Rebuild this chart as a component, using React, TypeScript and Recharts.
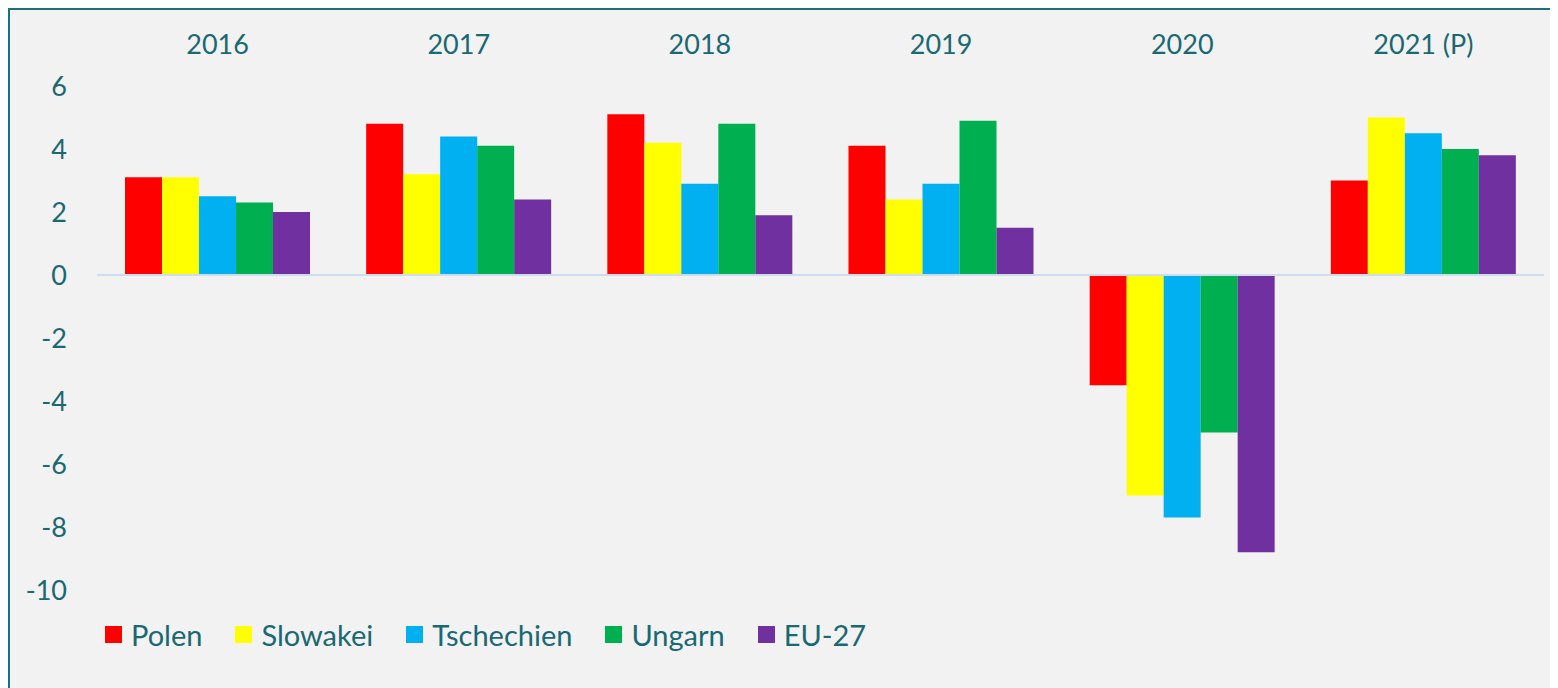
import React from 'react'
import {
  BarChart,
  Bar,
  XAxis,
  YAxis,
  Legend,
  ReferenceLine,
} from 'recharts'

const years = ['2016', '2017', '2018', '2019', '2020', '2021 (P)']
const polen = [3.1, 4.8, 5.1, 4.1, -3.5, 3.0]
const slowakei = [3.1, 3.2, 4.2, 2.4, -7.0, 5.0]
const tschechien = [2.5, 4.4, 2.9, 2.9, -7.7, 4.5]
const ungarn = [2.3, 4.1, 4.8, 4.9, -5.0, 4.0]
const eu27 = [2.0, 2.4, 1.9, 1.5, -8.8, 3.8]
const yTicks = [6, 4, 2, 0, -2, -4, -6, -8, -10]

const series = [
  { key: 'polen', name: 'Polen', color: '#ff0000' },
  { key: 'slowakei', name: 'Slowakei', color: '#ffff00' },
  { key: 'tschechien', name: 'Tschechien', color: '#00b0f0' },
  { key: 'ungarn', name: 'Ungarn', color: '#00b050' },
  { key: 'eu27', name: 'EU-27', color: '#7030a0' },
]

const data = years.map((year, i) => ({
  year,
  polen: polen[i],
  slowakei: slowakei[i],
  tschechien: tschechien[i],
  ungarn: ungarn[i],
  eu27: eu27[i],
}))

const TEXT = '#1a6872'
const FONT = 'Lato, "Open Sans", sans-serif'

// legend keeps the series order (recharts would sort it by name)
function LegendContent() {
  return (
    <div style={{ display: 'flex', alignItems: 'center', fontFamily: FONT, fontSize: 29, color: TEXT }}>
      {series.map((s) => (
        <div key={s.key} style={{ display: 'flex', alignItems: 'center', marginRight: 33 }}>
          <span style={{ width: 17, height: 17, background: s.color, marginRight: 9, display: 'inline-block' }} />
          <span>{s.name}</span>
        </div>
      ))}
    </div>
  )
}

export default function App() {
  return (
    <div
      style={{
        width: 1550,
        height: 680,
        background: '#f2f2f2',
        borderTop: '2px solid #1f6e79',
        borderLeft: '2px solid #1f6e79',
      }}
    >
      <BarChart
        width={1548}
        height={678}
        data={data}
        margin={{ top: 16, right: 14, left: 0, bottom: 98 }}
        barCategoryGap={28}
        barGap={0}
      >
        <XAxis
          dataKey="year"
          orientation="top"
          height={60}
          axisLine={false}
          tickLine={false}
          tickMargin={26}
          tick={{ fill: TEXT, fontSize: 27, fontFamily: FONT }}
        />
        <YAxis
          width={87}
          domain={[-10, 6]}
          ticks={yTicks}
          interval={0}
          axisLine={false}
          tickLine={false}
          tickMargin={24}
          tick={{ fill: TEXT, fontSize: 27, fontFamily: FONT }}
        />
        <ReferenceLine y={0} stroke="#cddcef" strokeWidth={2} />
        <Legend
          verticalAlign="middle"
          layout="horizontal"
          wrapperStyle={{ top: 607, left: 95, width: 1000 }}
          content={<LegendContent />}
        />
        {series.map((s) => (
          <Bar
            key={s.key}
            dataKey={s.key}
            name={s.name}
            fill={s.color}
            isAnimationActive={false}
          />
        ))}
      </BarChart>
    </div>
  )
}
